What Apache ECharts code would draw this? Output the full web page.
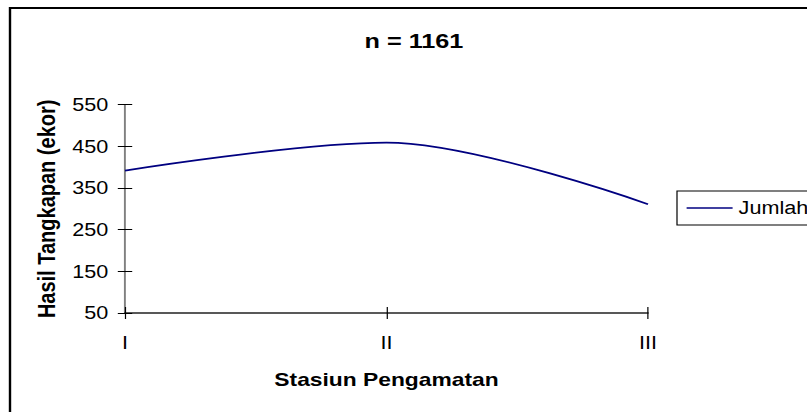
<!DOCTYPE html>
<html><head><meta charset="utf-8">
<script src="https://cdn.jsdelivr.net/npm/echarts@6/dist/echarts.min.js"></script>
<style>
html,body{margin:0;padding:0;background:#fff;overflow:hidden;width:807px;height:412px}
#c{width:672px;height:412px;transform:scaleX(1.20089);transform-origin:0 0}
</style>
</head><body><div id="c"></div>
<script>
var categories = ['I', 'II', 'III'];
var jumlah = [392, 459, 311];
var yTicks = {min: 50, max: 550, interval: 100};
var titleText = 'n = 1161';
var seriesName = 'Jumlah';
var xName = 'Stasiun Pengamatan';
var yName = 'Hasil Tangkapan (ekor)';

// the reference picture is stretched horizontally; layout is done in unstretched units
var S = 807 / 672;
var F = 'Arial, "Liberation Sans", sans-serif';
var chart = echarts.init(document.getElementById('c'), null, {renderer: 'svg'});
chart.setOption({
  animation: false,
  grid: {left: 125 / S, right: 672 - 648 / S, top: 104.7, bottom: 99},
  graphic: [
    {type: 'rect', shape: {x: 10 / S, y: 8, width: 900, height: 500}, style: {fill: 'none', stroke: '#000', lineWidth: 2}, z: -1},
    {type: 'text', x: 414 / S, y: 41, style: {text: titleText, font: 'bold 21px ' + F, fill: '#000', align: 'center', verticalAlign: 'middle'}}
  ],
  legend: {
    data: [seriesName], left: 677 / S, top: 191, orient: 'vertical',
    borderColor: '#000', borderWidth: 1, padding: [8, 120, 8, 8],
    itemWidth: 46 / S, itemHeight: 18, icon: 'path://M0,0L46,0L46,1.8L0,1.8Z',
    textStyle: {fontFamily: F, fontSize: 18, color: '#000'}
  },
  xAxis: [{
    type: 'category', data: categories, boundaryGap: false,
    axisLine: {lineStyle: {color: '#222', width: 1.5}},
    axisTick: {show: true, length: 6, lineStyle: {color: '#000'}},
    axisLabel: {fontFamily: F, fontSize: 18, color: '#000', margin: 21},
    name: xName, nameLocation: 'middle', nameGap: 57,
    nameTextStyle: {fontFamily: F, fontSize: 19, fontWeight: 'bold', color: '#000'}
  }, {
    type: 'category', data: categories, boundaryGap: false, position: 'bottom',
    axisLine: {show: false},
    axisTick: {show: true, inside: true, length: 6, lineStyle: {color: '#000'}},
    axisLabel: {show: false}
  }],
  yAxis: [{
    type: 'value', min: yTicks.min, max: yTicks.max, interval: yTicks.interval,
    splitLine: {show: false},
    axisLine: {show: true, lineStyle: {color: '#808080', width: 1.6}},
    axisTick: {show: true, length: 6, lineStyle: {color: '#000'}},
    axisLabel: {fontFamily: F, fontSize: 18, color: '#000', margin: 14},
    name: yName, nameLocation: 'middle', nameGap: 54,
    nameTextStyle: {fontFamily: F, fontSize: 20, fontWeight: 'bold', color: '#000'}
  }, {
    type: 'value', min: yTicks.min, max: yTicks.max, interval: yTicks.interval, position: 'left',
    splitLine: {show: false}, axisLine: {show: false},
    axisTick: {show: true, inside: true, length: 6, lineStyle: {color: '#000'}},
    axisLabel: {show: false}
  }],
  series: [{
    name: seriesName, type: 'line', data: jumlah, smooth: 0.33, symbol: 'none',
    lineStyle: {color: '#000080', width: 1.8}, itemStyle: {color: '#000080'}
  }]
});
</script></body></html>
